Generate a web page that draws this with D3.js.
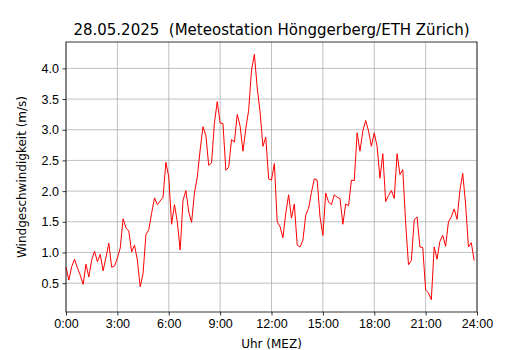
<!DOCTYPE html>
<html>
<head>
<meta charset="utf-8">
<script src="https://cdn.jsdelivr.net/npm/d3@7"></script>
<style>
  body { margin: 0; background: #fff; }
  svg { font-family: "DejaVu Sans", sans-serif; }
</style>
</head>
<body>
<div id="chart"></div>
<script>
// wind speed (m/s), every 10 minutes starting 0:00
const windSpeed = [
  0.76, 0.55, 0.77, 0.89, 0.75, 0.63, 0.48, 0.81, 0.60, 0.88, 1.02, 0.85,
  0.97, 0.70, 0.92, 1.15, 0.76, 0.78, 0.91, 1.07, 1.55, 1.40, 1.35, 1.01,
  1.12, 0.88, 0.44, 0.66, 1.29, 1.37, 1.64, 1.89, 1.78, 1.84, 1.90, 2.47,
  2.23, 1.46, 1.78, 1.50, 1.04, 1.85, 2.01, 1.66, 1.49, 1.97, 2.23, 2.67,
  3.05, 2.91, 2.42, 2.46, 3.11, 3.46, 3.11, 3.10, 2.34, 2.39, 2.84, 2.80,
  3.25, 3.06, 2.65, 3.02, 3.32, 3.97, 4.23, 3.68, 3.29, 2.73, 2.88, 2.20,
  2.18, 2.45, 1.50, 1.42, 1.24, 1.64, 1.94, 1.56, 1.79, 1.12, 1.09, 1.20,
  1.61, 1.72, 1.98, 2.20, 2.18, 1.58, 1.28, 1.97, 1.82, 1.78, 1.94, 1.90,
  1.88, 1.46, 1.79, 1.76, 2.18, 2.17, 2.95, 2.65, 2.98, 3.15, 2.98, 2.73,
  2.95, 2.73, 2.21, 2.61, 1.83, 1.93, 2.01, 1.88, 2.61, 2.27, 2.35, 1.48,
  0.80, 0.87, 1.53, 1.58, 1.09, 1.08, 0.39, 0.34, 0.23, 1.09, 0.89, 1.18,
  1.28, 1.10, 1.50, 1.58, 1.71, 1.54, 2.01, 2.29, 1.79, 1.09, 1.16, 0.87
];
const xTicks = [0, 3, 6, 9, 12, 15, 18, 21, 24];
const xTickLabels = ["0:00", "3:00", "6:00", "9:00", "12:00", "15:00", "18:00", "21:00", "24:00"];
const yTicks = [0.5, 1.0, 1.5, 2.0, 2.5, 3.0, 3.5, 4.0];
const title = "28.05.2025  (Meteostation Hönggerberg/ETH Zürich)";

const W = 530, H = 350;
const margin = { top: 42, right: 53, bottom: 38, left: 66 };
const width = W - margin.left - margin.right;
const height = H - margin.top - margin.bottom;

const svg = d3.select("#chart").append("svg")
  .attr("width", W).attr("height", H);

const g = svg.append("g")
  .attr("transform", `translate(${margin.left},${margin.top})`);

const points = windSpeed.map((v, i) => ({ h: i / 6, v: v }));

// matplotlib-like 5% padding on y
const [lo, hi] = d3.extent(windSpeed);
const pad = (hi - lo) * 0.05;

const x = d3.scaleLinear().domain([0, 24]).range([0, width]);
const y = d3.scaleLinear().domain([lo - pad, hi + pad]).range([height, 0]);

// grid
g.selectAll(".gx").data(xTicks).enter().append("line")
  .attr("x1", d => x(d)).attr("x2", d => x(d))
  .attr("y1", 0).attr("y2", height)
  .attr("stroke", "#b0b0b0").attr("stroke-width", 0.8);
g.selectAll(".gy").data(yTicks).enter().append("line")
  .attr("x1", 0).attr("x2", width)
  .attr("y1", d => y(d)).attr("y2", d => y(d))
  .attr("stroke", "#b0b0b0").attr("stroke-width", 0.8);

// line
const line = d3.line().x(d => x(d.h)).y(d => y(d.v));
g.append("path").datum(points)
  .attr("d", line)
  .attr("fill", "none")
  .attr("stroke", "#ff0000")
  .attr("stroke-width", 1)
  .attr("stroke-linejoin", "round");

// axes
const xAxis = d3.axisBottom(x).tickValues(xTicks)
  .tickFormat((d, i) => xTickLabels[i]).tickSize(3.5).tickPadding(3.5);
const yAxis = d3.axisLeft(y).tickValues(yTicks)
  .tickFormat(d3.format(".1f")).tickSize(3.5).tickPadding(3.5);

g.append("g").attr("transform", `translate(0,${height})`).call(xAxis);
g.append("g").call(yAxis);

g.selectAll(".tick text").attr("font-size", 12.5).attr("fill", "#000");
g.selectAll(".tick line").attr("stroke", "#000").attr("stroke-width", 0.8);
g.selectAll(".domain").remove();

// frame
g.append("rect")
  .attr("x", 0).attr("y", 0).attr("width", width).attr("height", height)
  .attr("fill", "none").attr("stroke", "#000").attr("stroke-width", 0.8);

// labels
svg.append("text")
  .attr("x", margin.left + width / 2).attr("y", 35)
  .attr("text-anchor", "middle").attr("font-size", 15)
  .style("white-space", "pre")
  .text(title);

svg.append("text")
  .attr("x", margin.left + width / 2).attr("y", 348)
  .attr("text-anchor", "middle").attr("font-size", 12)
  .text("Uhr (MEZ)");

svg.append("text")
  .attr("transform", `translate(26,${margin.top + height / 2}) rotate(-90)`)
  .attr("text-anchor", "middle").attr("font-size", 12)
  .text("Windgeschwindigkeit (m/s)");
</script>
</body>
</html>
